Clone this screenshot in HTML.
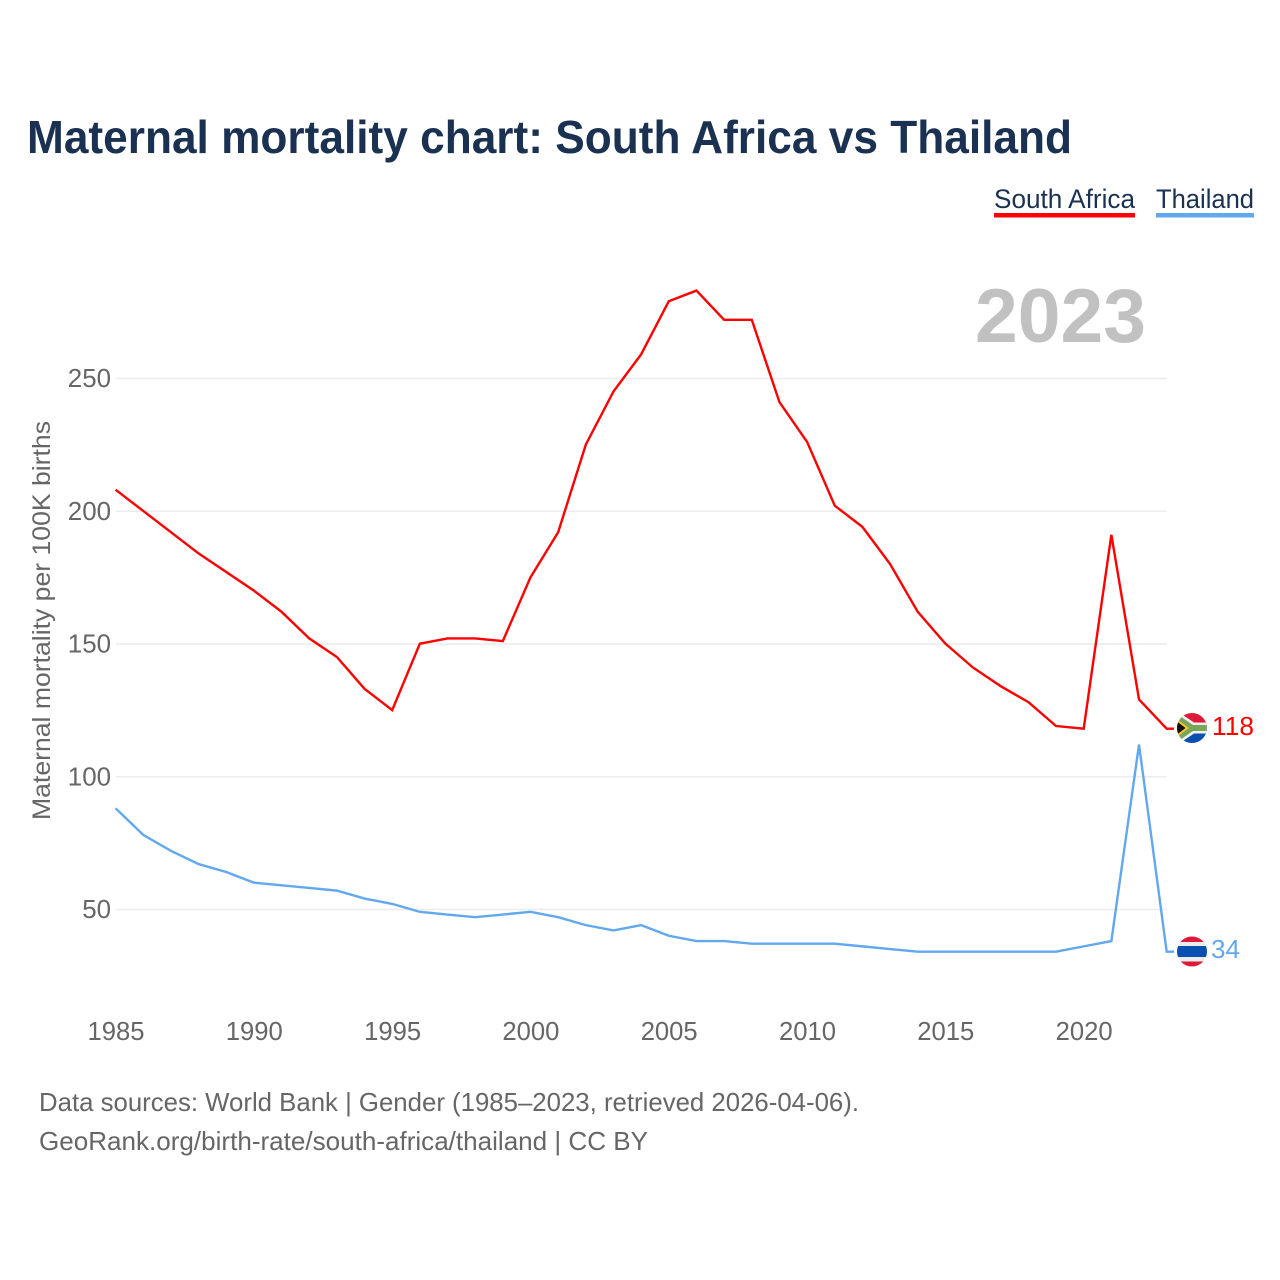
<!DOCTYPE html>
<html lang="en">
<head>
<meta charset="utf-8">
<title>Maternal mortality chart: South Africa vs Thailand</title>
<style>
html,body{margin:0;padding:0;background:#fff;width:1280px;height:1280px;overflow:hidden}
svg{display:block}
text{font-family:"Liberation Sans",sans-serif}
</style>
</head>
<body>
<svg id="chart" xmlns="http://www.w3.org/2000/svg" width="1280" height="1280" viewBox="0 0 1280 1280">
  <defs>
    <clipPath id="flag-clip-za"><circle cx="1192" cy="728" r="15"/></clipPath>
    <clipPath id="flag-clip-th"><circle cx="1192" cy="951.5" r="15"/></clipPath>
  </defs>
  <text x="27" y="153" font-size="46" font-weight="700" fill="#1a3152" textLength="1045" lengthAdjust="spacingAndGlyphs">Maternal mortality chart: South Africa vs Thailand</text>

  <g>
    <g>
      <text x="994" y="208" font-size="27" fill="#1a3152" textLength="141" lengthAdjust="spacingAndGlyphs">South Africa</text>
      <rect x="994" y="213" width="141" height="4.5" fill="#ff0000"/>
    </g>
    <g>
      <text x="1156" y="208" font-size="27" fill="#1a3152" textLength="98" lengthAdjust="spacingAndGlyphs">Thailand</text>
      <rect x="1156" y="213" width="98" height="4.5" fill="#62a8ee"/>
    </g>
  </g>

  <text x="975" y="342" font-size="76" font-weight="700" fill="#c1c1c1" textLength="171" lengthAdjust="spacingAndGlyphs">2023</text>

  <g id="grid"></g>
  <g id="y-ticks"></g>
  <g id="x-ticks"></g>

  <text transform="translate(50,820) rotate(-90)" x="0" y="0" font-size="25" fill="#666666" textLength="399" lengthAdjust="spacingAndGlyphs">Maternal mortality per 100K births</text>

  <g id="series"></g>

  <g clip-path="url(#flag-clip-za)">
    <rect x="1177" y="713" width="30" height="15" fill="#de1a3a"/>
    <rect x="1177" y="728" width="30" height="15" fill="#0a50b0"/>
    <path d="M1177 711 L1194 722.5 H1207 V733.5 H1194 L1177 745 Z" fill="#f2f2f2"/>
    <path d="M1177 714 L1193 725 H1207 V731 H1193 L1177 742 Z" fill="#7aa65a"/>
    <path d="M1177 719 L1189 728 L1177 737 Z" fill="#f5c431"/>
    <path d="M1177 721.5 L1185.5 728 L1177 734.5 Z" fill="#111111"/>
  </g>
  <g clip-path="url(#flag-clip-th)">
    <rect x="1177" y="936" width="30" height="31" fill="#ececec"/>
    <rect x="1177" y="936" width="30" height="6" fill="#de1a3a"/>
    <rect x="1177" y="946" width="30" height="11" fill="#0a50b0"/>
    <rect x="1177" y="961.5" width="30" height="6" fill="#de1a3a"/>
  </g>
  <text id="value-za" x="1212" y="735" font-size="26" fill="#ff0000" textLength="42" lengthAdjust="spacingAndGlyphs"></text>
  <text id="value-th" x="1211" y="958" font-size="26" fill="#62a8ee" textLength="29" lengthAdjust="spacingAndGlyphs"></text>

  <g>
    <text x="39" y="1111" font-size="26" fill="#666666" textLength="820" lengthAdjust="spacingAndGlyphs">Data sources: World Bank | Gender (1985–2023, retrieved 2026-04-06).</text>
    <text x="39" y="1150" font-size="26" fill="#666666" textLength="609" lengthAdjust="spacingAndGlyphs">GeoRank.org/birth-rate/south-africa/thailand | CC BY</text>
  </g>
</svg>
<script>
var years = [1985,1986,1987,1988,1989,1990,1991,1992,1993,1994,1995,1996,1997,1998,1999,2000,2001,2002,2003,2004,2005,2006,2007,2008,2009,2010,2011,2012,2013,2014,2015,2016,2017,2018,2019,2020,2021,2022,2023];
var southAfrica = [208,200,192,184,177,170,162,152,145,133,125,150,152,152,151,175,192,225,245,259,279,283,272,272,241,226,202,194,180,162,150,141,134,128,119,118,191,129,118];
var thailand = [88,78,72,67,64,60,59,58,57,54,52,49,48,47,48,49,47,44,42,44,40,38,38,37,37,37,37,36,35,34,34,34,34,34,34,36,38,112,34];
var yTickValues = [50,100,150,200,250];
var xTickValues = [1985,1990,1995,2000,2005,2010,2015,2020];

var NS = 'http://www.w3.org/2000/svg';
function xScale(year){ return 115.6 + (year - 1985) * 27.66; }
function yScale(v){ return 909.2 - (v - 50) * 2.655; }
function make(tag, attrs, parent){
  var el = document.createElementNS(NS, tag);
  for (var k in attrs) el.setAttribute(k, attrs[k]);
  parent.appendChild(el);
  return el;
}

var gridG = document.getElementById('grid');
var yG = document.getElementById('y-ticks');
yTickValues.forEach(function(v){
  var line = make('line', {x1:116, x2:1167, y1:yScale(v)+0.3, y2:yScale(v)+0.3, stroke:'#ececec', 'stroke-width':1.5}, gridG);
  
  
  var t = make('text', {x:111, y:yScale(v)+8.8, 'font-size':26, fill:'#666666', 'text-anchor':'end', textLength:String(v).length*14.4, lengthAdjust:'spacingAndGlyphs'}, yG);
  
  
  t.textContent = v;
});

var xG = document.getElementById('x-ticks');
xTickValues.forEach(function(y){
  var t = make('text', {x:xScale(y)+0.4, y:1040, 'font-size':26, fill:'#666666', 'text-anchor':'middle', textLength:57, lengthAdjust:'spacingAndGlyphs'}, xG);
  
  
  t.textContent = y;
});

function drawSeries(values, color, name, leaderEndX){
  var g = document.getElementById('series');
  var pts = values.map(function(v,i){ return xScale(years[i]).toFixed(2)+','+yScale(v).toFixed(2); });
  var lastY = yScale(values[values.length-1]).toFixed(2);
  pts.push(leaderEndX+','+lastY);
  var line = make('polyline', {points:pts.join(' '), fill:'none', stroke:color, 'stroke-width':2.4, 'stroke-linejoin':'miter'}, g);
  
  
}
drawSeries(southAfrica, '#ff0000', 'line-south-africa', 1174);
drawSeries(thailand, '#62a8ee', 'line-thailand', 1174);

document.getElementById('value-za').textContent = southAfrica[southAfrica.length-1];
document.getElementById('value-th').textContent = thailand[thailand.length-1];
</script>
</body>
</html>
